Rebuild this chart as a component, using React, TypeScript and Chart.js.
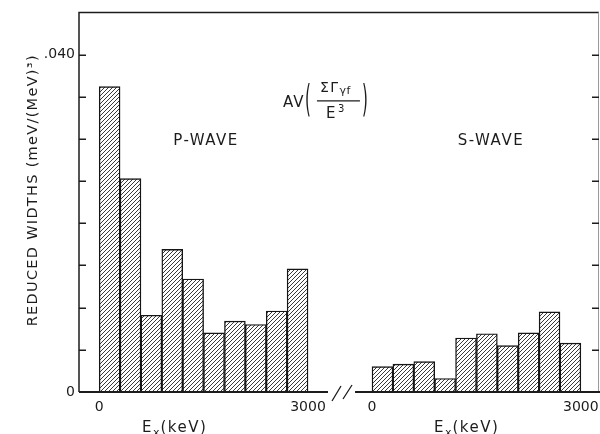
import React, { useEffect, useRef } from 'react';
import { Chart, registerables } from 'chart.js';

Chart.register(...registerables);

// ---- data ----
const binCenters = [150, 450, 750, 1050, 1350, 1650, 1950, 2250, 2550, 2850]; // keV, 300 keV bins
const pWave = [0.0362, 0.0253, 0.0091, 0.0169, 0.0134, 0.0070, 0.0084, 0.0080, 0.0096, 0.0146];
const sWave = [0.0030, 0.0033, 0.0036, 0.0016, 0.0064, 0.0069, 0.0055, 0.0070, 0.0095, 0.0058];
const xTickValues = [0, 3000];
const yMax = 0.045;
const yStep = 0.005;
const yLabeled = [0, 0.04];
const yLabelText = ['0', '.040'];
const panelLabels = ['P-WAVE', 'S-WAVE'];
const yTitle = 'REDUCED WIDTHS (meV/(MeV)\u00B3)';

// shared virtual axis: second panel is shifted by S_OFFSET
const S_OFFSET = 3920;
const X_MIN = -290;
const X_MAX = 7195;

const FONT = 'DejaVu Sans';
const INK = '#1c1c1c';

function makeHatch(): CanvasPattern | string {
  const size = 4;
  const pc = document.createElement('canvas');
  pc.width = size;
  pc.height = size;
  const c = pc.getContext('2d');
  if (!c) return '#888';
  c.fillStyle = '#ffffff';
  c.fillRect(0, 0, size, size);
  c.strokeStyle = '#222';
  c.lineWidth = 0.9;
  c.beginPath();
  c.moveTo(0, size);
  c.lineTo(size, 0);
  c.moveTo(-size / 2, size / 2);
  c.lineTo(size / 2, -size / 2);
  c.moveTo(size / 2, size * 1.5);
  c.lineTo(size * 1.5, size / 2);
  c.stroke();
  const p = c.createPattern(pc, 'repeat');
  return p || '#888';
}

const decorPlugin = {
  id: 'decor',
  afterDraw(chart: any) {
    const { ctx, chartArea: a, scales } = chart;
    const xs = scales.x;
    const ys = scales.y;
    ctx.save();
    ctx.lineCap = 'butt';

    // frame: left axis + top line
    ctx.strokeStyle = INK;
    ctx.lineWidth = 1.5;
    ctx.beginPath();
    ctx.moveTo(a.left, a.bottom);
    ctx.lineTo(a.left, a.top);
    ctx.lineTo(a.right - 1, a.top);
    ctx.stroke();
    ctx.strokeStyle = '#9a9a9a';
    ctx.lineWidth = 1;
    ctx.beginPath();
    ctx.moveTo(a.right - 1.5, a.top);
    ctx.lineTo(a.right - 1.5, a.bottom);
    ctx.stroke();

    // broken baseline
    const y0 = ys.getPixelForValue(0);
    const leftEnd = xs.getPixelForValue(3000) + 20;
    const rightStart = xs.getPixelForValue(S_OFFSET) - 17;
    ctx.strokeStyle = INK;
    ctx.lineWidth = 2;
    ctx.beginPath();
    ctx.moveTo(a.left, y0);
    ctx.lineTo(leftEnd, y0);
    ctx.moveTo(rightStart, y0);
    ctx.lineTo(a.right, y0);
    ctx.stroke();

    // break marks //
    const bx = leftEnd + 4;
    ctx.lineWidth = 1.3;
    ctx.beginPath();
    ctx.moveTo(bx, y0 + 9);
    ctx.lineTo(bx + 9, y0 - 6);
    ctx.moveTo(bx + 11, y0 + 7);
    ctx.lineTo(bx + 20, y0 - 7);
    ctx.stroke();

    // inward tick marks on both sides
    ctx.lineWidth = 1.5;
    ctx.beginPath();
    ys.ticks.forEach((t: any) => {
      if (t.value <= 0 || t.value >= yMax - 1e-9) return;
      const py = Math.round(ys.getPixelForValue(t.value)) + 0.25;
      ctx.moveTo(a.left, py);
      ctx.lineTo(a.left + 7, py);
      ctx.moveTo(a.right - 8, py);
      ctx.lineTo(a.right - 1, py);
    });
    ctx.stroke();

    ctx.fillStyle = INK;

    // panel labels
    ctx.font = `15px ${FONT}`;
    (ctx as any).letterSpacing = '1.5px';
    ctx.textAlign = 'center';
    ctx.textBaseline = 'middle';
    const ly = ys.getPixelForValue(0.0297);
    ctx.fillText(panelLabels[0], xs.getPixelForValue(1534), ly);
    ctx.fillText(panelLabels[1], xs.getPixelForValue(S_OFFSET + 1708), ly);

    // x axis titles: E_x(keV)
    const drawXTitle = (x: number, y: number) => {
      ctx.textAlign = 'left';
      ctx.textBaseline = 'alphabetic';
      ctx.font = `15px ${FONT}`;
      (ctx as any).letterSpacing = '1.5px';
      ctx.fillText('E', x, y);
      let cx = x + ctx.measureText('E').width;
      ctx.font = `11px ${FONT}`;
      (ctx as any).letterSpacing = '0px';
      ctx.fillText('x', cx, y + 4);
      cx += ctx.measureText('x').width + 1;
      ctx.font = `15px ${FONT}`;
      (ctx as any).letterSpacing = '1.5px';
      ctx.fillText('(keV)', cx, y);
    };
    const ty = y0 + 40;
    drawXTitle(xs.getPixelForValue(615), ty);
    drawXTitle(xs.getPixelForValue(S_OFFSET + 889), ty);

    // y axis title
    ctx.save();
    ctx.translate(33, (a.top + a.bottom) / 2 - 12);
    ctx.rotate(-Math.PI / 2);
    ctx.font = `14.5px ${FONT}`;
    (ctx as any).letterSpacing = '1.3px';
    ctx.textAlign = 'center';
    ctx.textBaseline = 'middle';
    ctx.fillText(yTitle, 0, 0);
    ctx.restore();

    // formula  AV( ΣΓγf / E³ )
    const ax = xs.getPixelForValue(2640);
    const ay = ys.getPixelForValue(0.0345);
    (ctx as any).letterSpacing = '1px';
    ctx.textAlign = 'left';
    ctx.textBaseline = 'alphabetic';
    ctx.font = `15px ${FONT}`;
    ctx.fillText('AV', ax, ay + 6);
    (ctx as any).letterSpacing = '0px';
    const paren = (ch: string, px: number) => {
      ctx.save();
      ctx.translate(px, ay);
      ctx.scale(1, 2.5);
      ctx.font = `15px ${FONT}`;
      ctx.textBaseline = 'middle';
      ctx.fillText(ch, 0, 0);
      ctx.restore();
    };
    paren('(', ax + 22);
    paren(')', ax + 79);
    ctx.font = `14px ${FONT}`;
    (ctx as any).letterSpacing = '1.5px';
    ctx.fillText('\u03A3\u0393', ax + 37, ay - 9);
    const gx = ax + 37 + ctx.measureText('\u03A3\u0393').width;
    ctx.font = `11px ${FONT}`;
    (ctx as any).letterSpacing = '0.5px';
    ctx.fillText('\u03B3f', gx, ay - 7);
    ctx.lineWidth = 1.2;
    ctx.beginPath();
    ctx.moveTo(ax + 34, ay);
    ctx.lineTo(ax + 77, ay);
    ctx.stroke();
    (ctx as any).letterSpacing = '0px';
    ctx.font = `15px ${FONT}`;
    ctx.fillText('E', ax + 43, ay + 17);
    ctx.font = `10px ${FONT}`;
    ctx.fillText('3', ax + 55, ay + 11.5);

    ctx.restore();
  },
};

export default function App() {
  const ref = useRef<HTMLCanvasElement | null>(null);

  useEffect(() => {
    const canvas = ref.current;
    if (!canvas) return;
    const hatch = makeHatch();
    const allXTicks = [...xTickValues, ...xTickValues.map((v) => v + S_OFFSET)];

    const barStyle = {
      backgroundColor: hatch,
      borderColor: '#151515',
      borderWidth: 1.4,
      borderSkipped: 'start',
      barPercentage: 1,
      categoryPercentage: 1,
      grouped: false,
    };

    const chart = new Chart(canvas, {
      type: 'bar',
      data: {
        datasets: [
          {
            label: panelLabels[0],
            data: pWave.map((v, i) => ({ x: binCenters[i], y: v })),
            ...barStyle,
          } as any,
          {
            label: panelLabels[1],
            data: sWave.map((v, i) => ({ x: binCenters[i] + S_OFFSET, y: v })),
            ...barStyle,
          } as any,
        ],
      },
      options: {
        animation: false,
        responsive: false,
        events: [],
        layout: { padding: { top: 12, right: 0, left: 0, bottom: 0 } },
        plugins: {
          legend: { display: false },
          tooltip: { enabled: false },
        },
        scales: {
          x: {
            type: 'linear',
            position: 'bottom',
            offset: false,
            min: X_MIN,
            max: X_MAX,
            afterBuildTicks: (s: any) => {
              s.ticks = allXTicks.map((v) => ({ value: v }));
            },
            afterFit: (s: any) => {
              s.height = 42;
              s.paddingLeft = 0;
              s.paddingRight = 0;
            },
            ticks: {
              autoSkip: false,
              maxRotation: 0,
              padding: 7,
              color: INK,
              font: { family: FONT, size: 14 },
              callback: (v: any) => String(v >= S_OFFSET ? v - S_OFFSET : v),
            },
            grid: { display: false, drawTicks: false, offset: false },
            border: { display: false },
          },
          y: {
            position: 'left',
            min: 0,
            max: yMax,
            afterFit: (s: any) => {
              s.width = 79;
            },
            ticks: {
              stepSize: yStep,
              autoSkip: false,
              padding: 4,
              color: INK,
              font: { family: FONT, size: 14 },
              callback: (v: any) => {
                const idx = yLabeled.findIndex((t) => Math.abs(t - Number(v)) < 1e-9);
                return idx >= 0 ? yLabelText[idx] : '';
              },
            },
            grid: { display: false, drawTicks: false },
            border: { display: false },
          },
        },
      } as any,
      plugins: [decorPlugin],
    });

    return () => {
      chart.destroy();
    };
  }, []);

  return (
    <div style={{ position: 'absolute', left: 0, top: 0, width: 600, height: 434, background: '#fff' }}>
      <canvas ref={ref} width={600} height={434} style={{ display: 'block' }} />
    </div>
  );
}
